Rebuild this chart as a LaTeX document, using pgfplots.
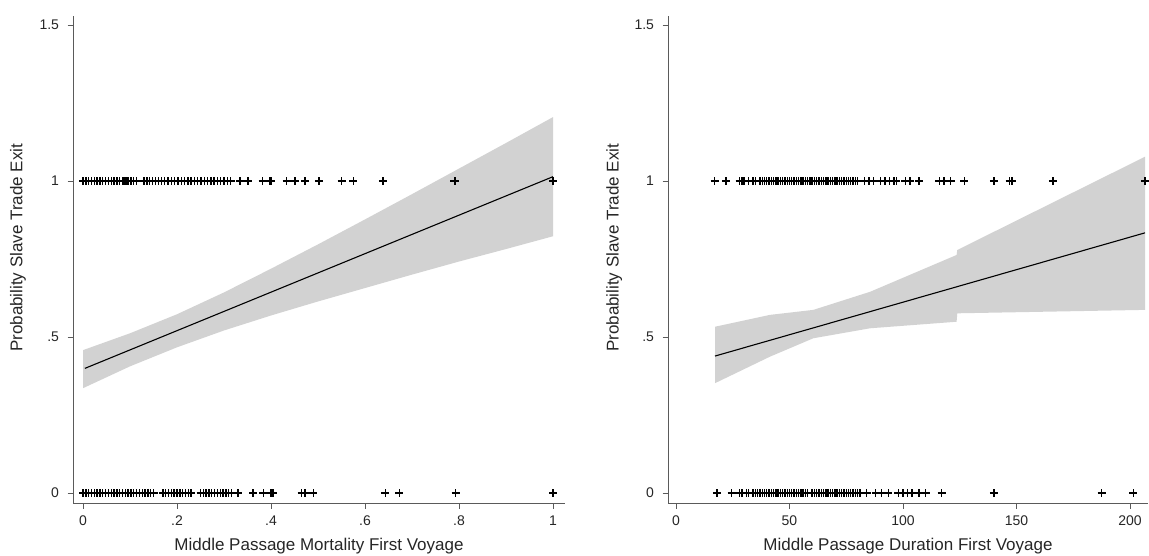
\documentclass[border=0pt]{standalone}
\usepackage{pgfplots}
\pgfplotsset{compat=1.18}
\usepackage{fontspec}
\setmainfont{Liberation Sans}
\definecolor{band}{RGB}{210,210,210}
\definecolor{axgray}{RGB}{90,90,90}
\pgfplotsset{
  stata/.style={
    scale only axis,
    axis lines=left,
    axis line style={-, draw=axgray, line width=1pt},
    tick align=outside,
    major tick length=5.5pt,
    tick style={draw=axgray, line width=0.8pt},
    ymin=-0.032, ymax=1.529,
    ytick={0,0.5,1,1.5},
    yticklabels={0,.5,1,1.5},
    ticklabel style={font=\fontsize{14}{16}\selectfont, text=black!85},
    yticklabel style={xshift=-5pt},
    xticklabel style={yshift=-4pt},
    label style={font=\fontsize{17}{20}\selectfont, text=black!85},
    height=487pt,
    ylabel={Probability Slave Trade Exit},
    ylabel style={at={(axis description cs:-0.112,0.524)}, anchor=center},
    xlabel style={at={(axis description cs:0.5,-0.088)}, anchor=center},
  },
  pts/.style={only marks, mark=+, mark size=4pt, black, mark options={line width=1.4pt}},
}
\begin{document}
\begin{tikzpicture}
\useasboundingbox (0,0) rectangle (1149pt,555pt);
\begin{axis}[stata, at={(73pt,52pt)}, anchor=south west, width=492pt,
  xmin=-0.0213, xmax=1.0255,
  xtick={0,0.2,0.4,0.6,0.8,1}, xticklabels={0,.2,.4,.6,.8,1},
  xlabel={Middle Passage Mortality First Voyage}]
\addplot[fill=band, draw=none] coordinates {
 (0,0.458)(0.1,0.512)(0.2,0.573)(0.3,0.643)(0.4,0.719)(0.5,0.797)(0.6,0.877)(0.7,0.958)(0.8,1.040)(0.9,1.122)(1,1.205)
 (1,0.823)(0.9,0.782)(0.8,0.742)(0.7,0.700)(0.6,0.657)(0.5,0.614)(0.4,0.569)(0.3,0.521)(0.2,0.467)(0.1,0.406)(0,0.336)} -- cycle;
\addplot[black, line width=1.1pt] coordinates {(0.004,0.3995)(1,1.014)};
\addplot[pts] coordinates {
 (0,1)(0.006,1)(0.012,1)(0.018,1)(0.024,1)(0.03,1)(0.036,1)(0.042,1)(0.048,1)(0.054,1)(0.06,1)(0.066,1)(0.072,1)(0.078,1)(0.084,1)(0.086,1)(0.088,1)(0.09,1)(0.092,1)(0.096,1)(0.102,1)(0.108,1)(0.114,1)
 (0.13,1)(0.136,1)(0.142,1)(0.148,1)(0.154,1)(0.16,1)(0.167,1)(0.174,1)(0.181,1)(0.188,1)(0.195,1)(0.202,1)(0.209,1)(0.216,1)(0.223,1)(0.23,1)(0.237,1)(0.244,1)(0.251,1)(0.258,1)(0.265,1)(0.272,1)(0.279,1)(0.286,1)(0.293,1)(0.3,1)(0.307,1)(0.314,1)
 (0.334,1)(0.351,1)(0.382,1)(0.397,1)(0.4,1)(0.433,1)(0.451,1)(0.472,1)(0.502,1)(0.55,1)(0.575,1)(0.638,1)(0.79,1)(0.792,1)(1,1)};
\addplot[pts] coordinates {
 (0,0)(0.006,0)(0.012,0)(0.018,0)(0.024,0)(0.03,0)(0.036,0)(0.042,0)(0.048,0)(0.054,0)(0.06,0)(0.066,0)(0.072,0)(0.078,0)(0.084,0)(0.09,0)(0.096,0)(0.102,0)(0.108,0)(0.114,0)(0.12,0)(0.126,0)(0.132,0)(0.138,0)(0.144,0)(0.15,0)
 (0.17,0)(0.176,0)(0.182,0)(0.188,0)(0.194,0)(0.2,0)(0.206,0)(0.212,0)(0.218,0)(0.224,0)(0.23,0)
 (0.25,0)(0.256,0)(0.262,0)(0.268,0)(0.274,0)(0.28,0)(0.286,0)(0.292,0)(0.298,0)(0.304,0)(0.31,0)(0.316,0)
 (0.33,0)(0.362,0)(0.384,0)(0.399,0)(0.401,0)(0.403,0)(0.405,0)(0.465,0)(0.472,0)(0.49,0)(0.643,0)(0.673,0)(0.793,0)(1,0)};
\end{axis}
\begin{axis}[stata, at={(668pt,52pt)}, anchor=south west, width=480pt,
  xmin=-3.5, xmax=207.9,
  xtick={0,50,100,150,200}, xticklabels={0,50,100,150,200},
  xlabel={Middle Passage Duration First Voyage}]
\addplot[fill=band, draw=none] coordinates {
 (17.2,0.533)(41.4,0.571)(60.5,0.587)(85.5,0.645)(123.6,0.763)(123.9,0.779)(206.6,1.078)
 (206.6,0.587)(123.9,0.576)(123.6,0.549)(85.5,0.528)(60.5,0.496)(41.4,0.437)(17.2,0.352)} -- cycle;
\addplot[black, line width=1.1pt] coordinates {(17.2,0.439)(206.6,0.834)};
\addplot[pts] coordinates {
 (17,1)(22,1)(28,1)(29,1)(30,1)(32,1)(34,1)(35,1)
 (37,1)(38,1)(39,1)(40,1)(41,1)(42,1)(43,1)(44,1)(45,1)(46,1)(47,1)(48,1)(49,1)(50,1)(51,1)(52,1)(53,1)(54,1)(55,1)(56,1)(57,1)(58,1)(59,1)(60,1)
 (61,1)(62,1)(63,1)(64,1)(65,1)(66,1)(67,1)(68,1)(69,1)(70,1)(71,1)(72,1)(73,1)(74,1)(75,1)(76,1)(77,1)(78,1)(79,1)(80,1)
 (83,1)(85,1)(87,1)(90,1)(92,1)(94,1)(96,1)(97,1)(101,1)(103,1)(107,1)(116,1)(118,1)(121,1)(127,1)(140,1)(147,1)(148,1)(166,1)(206.6,1)};
\addplot[pts] coordinates {
 (18,0)(24.5,0)(28,0)(29,0)(31,0)(32,0)(34,0)(35,0)(36,0)
 (37,0)(38,0)(39,0)(40,0)(41,0)(42,0)(43,0)(44,0)(45,0)(46,0)(47,0)(48,0)(49,0)(50,0)(51,0)(52,0)(53,0)(54,0)(55,0)(56,0)(57,0)(58,0)
 (60,0)(61,0)(62,0)(63,0)(64,0)(65,0)(66,0)(67,0)(68,0)(69,0)(70,0)(71,0)(72,0)(73,0)(74,0)(75,0)(76,0)(77,0)(78,0)(79,0)(80,0)
 (81,0)(84,0)(88,0)(90.5,0)(93.5,0)(98,0)(100,0)(102,0)(104,0)(107,0)(110,0)(117,0)(140,0)(187.5,0)(201.5,0)};
\end{axis}
\end{tikzpicture}
\end{document}
